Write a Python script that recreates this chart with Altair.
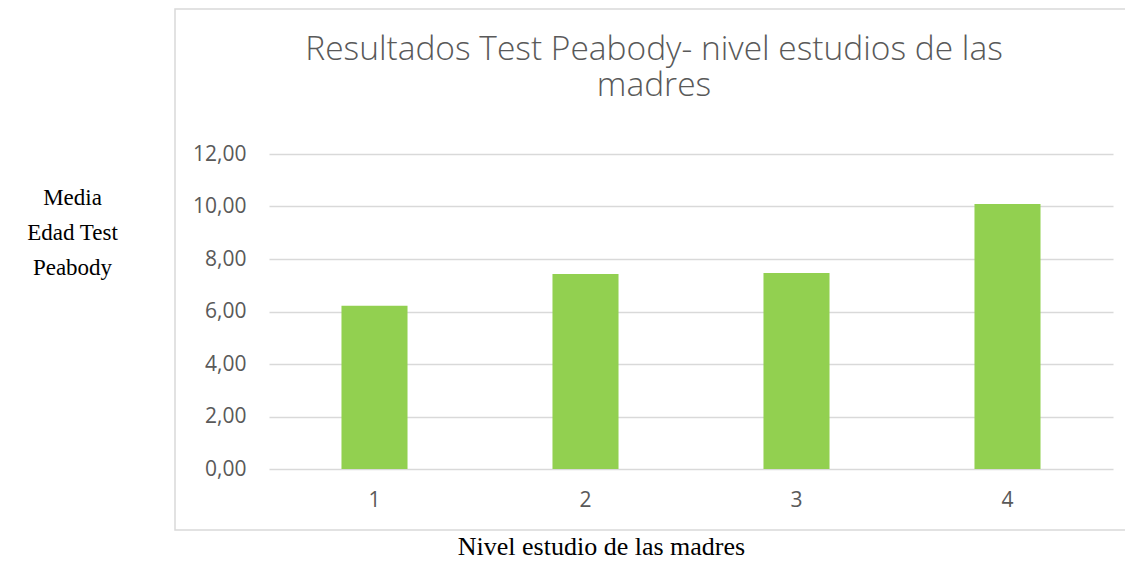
import altair as alt
import pandas as pd

niveles = ["1", "2", "3", "4"]
medias = [6.22, 7.43, 7.47, 10.10]
y_ticks = [0, 2, 4, 6, 8, 10, 12]

titulo = ["Resultados Test Peabody- nivel estudios de las", "madres"]
titulo_y = ["Media", "Edad Test", "Peabody"]
titulo_x = "Nivel estudio de las madres"

df = pd.DataFrame({"nivel": niveles, "media": medias})

GREY = "#595959"
GRID = "#d9d9d9"

bars = alt.Chart(df).mark_bar(color="#92d050").encode(
    x=alt.X(
        "nivel:N",
        sort=niveles,
        scale=alt.Scale(paddingInner=0.687, paddingOuter=0.3435),
        axis=alt.Axis(
            title=titulo_x,
            labelAngle=0,
            labelFont="Open Sans",
            labelFontSize=21,
            labelColor=GREY,
            labelPadding=20,
            ticks=False,
            domain=False,
            titleFont="Liberation Serif",
            titleFontSize=26,
            titleFontWeight="normal",
            titleColor="black",
            titleX=332,
            titleY=85,
            titleAlign="center",
            titleBaseline="alphabetic",
        ),
    ),
    y=alt.Y(
        "media:Q",
        scale=alt.Scale(domain=[0, 12], nice=False),
        axis=alt.Axis(
            title=titulo_y,
            values=y_ticks,
            labelExpr="replace(format(datum.value, '.2f'), '.', ',')",
            labelFont="Open Sans",
            labelFontSize=21,
            labelColor=GREY,
            labelPadding=23,
            ticks=False,
            tickSize=0,
            domain=False,
            grid=True,
            gridColor=GRID,
            gridWidth=1.3,
            titleAngle=0,
            titleFont="Liberation Serif",
            titleFontSize=23,
            titleFontWeight="normal",
            titleColor="black",
            titleX=-197,
            titleY=50,
            titleAlign="center",
            titleBaseline="alphabetic",
            titleLineHeight=35,
        ),
    ),
)

border = alt.Chart(pd.DataFrame({"a": [0]})).mark_rect(
    fillOpacity=0, stroke=GRID, strokeWidth=1.5
).encode(
    x=alt.value(-94), x2=alt.value(880), y=alt.value(-145), y2=alt.value(376)
)

chart = (
    alt.layer(border, bars)
    .properties(
        width=844,
        height=315,
        title=alt.TitleParams(
            text=titulo,
            font="Open Sans",
            fontSize=33.5,
            fontWeight=300,
            color=GREY,
            anchor="middle",
            frame="group",
            baseline="alphabetic",
            dx=-37,
            dy=125,
            lineHeight=36,
        ),
        autosize=alt.AutoSizeParams(type="none"),
        padding={"left": 261, "top": 146, "right": 12, "bottom": 88},
    )
    .configure_view(stroke=None)
)

chart.save("out.html", embed_options={"renderer": "svg", "actions": False})
